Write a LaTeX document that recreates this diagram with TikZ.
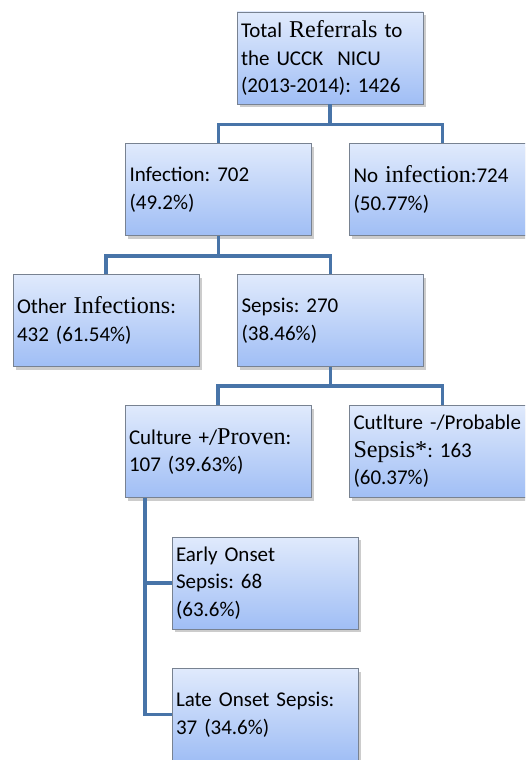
\documentclass[tikz,border=0pt]{standalone}
\usepackage{fontspec}
\setmainfont{Carlito}
\newfontfamily\cambria{Liberation Serif}[Scale=1.15]
\usetikzlibrary{shadows}

\definecolor{boxtop}{RGB}{224,234,252}
\definecolor{boxbot}{RGB}{160,190,245}
\definecolor{boxline}{RGB}{120,130,145}
\definecolor{linkblue}{RGB}{72,116,168}

\begin{document}
\frenchspacing
\begin{tikzpicture}[x=1pt,y=-1pt,
    link/.style={draw=linkblue,line width=3.8pt}]

      \useasboundingbox (0,0) rectangle (525,760);
      \clip (0,0) rectangle (525,760);

      \begin{scope}[every node/.style={rectangle,draw=boxline,line width=0.8pt,
          top color=boxtop,bottom color=boxbot,
          drop shadow={opacity=0.4,shadow xshift=2.5pt,shadow yshift=-3pt},
          minimum width=186pt,minimum height=92pt,text width=178pt,inner sep=4pt,
          align=left,font=\fontsize{21}{27.5}\selectfont}]
        \node (total)    at (330,58)    {Total {\cambria Referrals} to\\the UCCK~ NICU\\(2013-2014): 1426};
        \node (infect)   at (218.5,189.5) {Infection: 702\\(49.2\%)};
        \node (noinf)    at (442.5,189.5) {No {\cambria infection}:724\\(50.77\%)};
        \node (other)    at (106,320.5) {Other {\cambria Infections}:\\432 (61.54\%)};
        \node (sepsis)   at (330.5,320.5) {Sepsis: 270\\(38.46\%)};
        \node (proven)   at (218,451.5) {Culture +/{\cambria Proven}:\\107 (39.63\%)};
        \node (probable) at (442.5,451.5) {Cutlture -/Probable\\{\cambria Sepsis*}: 163\\(60.37\%)};
        \node (early)    at (265,583)   {Early Onset\\Sepsis: 68\\(63.6\%)};
        \node (late)     at (265,714.5) {Late Onset Sepsis:\\37 (34.6\%)};
      \end{scope}

      % level connectors
      \draw[link] (total.south) -- ++(0,20) coordinate (bar1);
      \draw[link] (infect.north) |- (bar1) -| (noinf.north);
      \draw[link] (infect.south) -- ++(0,20) coordinate (bar2);
      \draw[link] (other.north) |- (bar2) -| (sepsis.north);
      \draw[link] (sepsis.south) -- ++(0,19) coordinate (bar3);
      \draw[link] (proven.north) |- (bar3) -| (probable.north);

      % onset branch
      \coordinate (trunk) at ([xshift=20pt]proven.south west);
      \draw[link] (trunk) |- (late.west);
      \draw[link] (trunk |- early.west) -- (early.west);

    \end{tikzpicture}
\end{document}
